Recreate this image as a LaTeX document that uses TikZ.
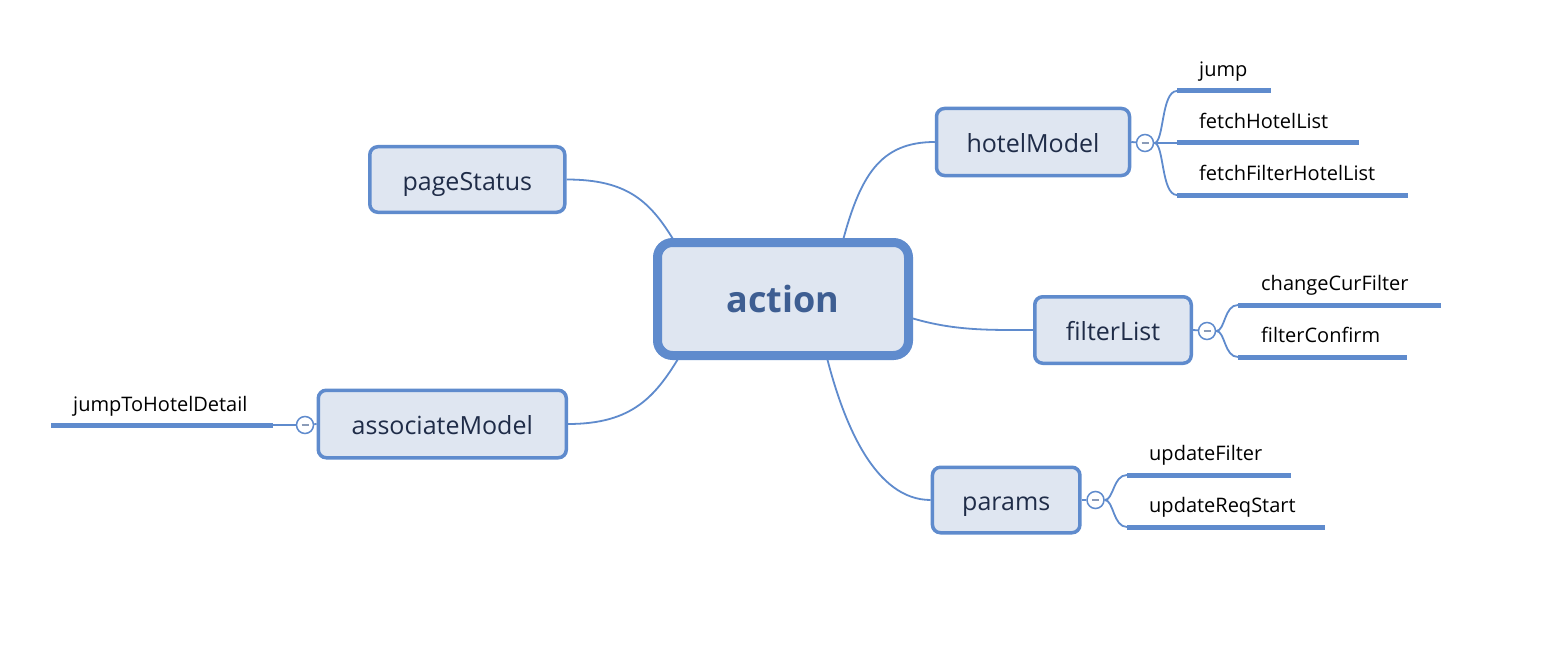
\documentclass[tikz,border=0pt]{standalone}
\usepackage{fontspec}
\setmainfont{Open Sans}
\usetikzlibrary{backgrounds}
\definecolor{mmblue}{HTML}{5F8BCD}
\definecolor{mmfill}{HTML}{DFE6F1}
\definecolor{mmtext}{HTML}{1F2C48}
\definecolor{mmroot}{HTML}{3E5E92}
\definecolor{mmminus}{HTML}{8A9BB8}
\begin{document}
\begin{tikzpicture}[x=1pt,y=-1pt,
  topic/.style={draw=mmblue, fill=mmfill, line width=3.5pt, rounded corners=8pt, inner sep=0pt, text=mmtext, font=\fontsize{25}{30}\selectfont, text height=21pt, text depth=0pt},
  rootbox/.style={draw=mmblue, fill=mmfill, line width=9pt, rounded corners=15pt, inner sep=0pt, text=mmroot, font=\fontsize{36}{42}\selectfont\bfseries, minimum width=251pt, minimum height=113pt, text height=27.4pt, text depth=0pt},
  link/.style={draw=mmblue, line width=1.8pt},
  leafline/.style={draw=mmblue, line width=5pt},
  leaftext/.style={anchor=base west, inner sep=0pt, text=black, font=\fontsize{20}{24}\selectfont},
  fold/.style={circle, draw=mmblue, fill=white, line width=1.5pt, minimum size=17pt, inner sep=0pt,
    path picture={\draw[line width=1.6pt, draw=mmminus] ([xshift=-3.5pt]path picture bounding box.center) -- ([xshift=3.5pt]path picture bounding box.center);}}
]
\useasboundingbox (0,0) rectangle (1542,658);

% main nodes
\node[rootbox] (action) at (783,299) {action};
\node[topic, minimum width=193pt, minimum height=67pt] (hotelModel) at (1033,142) {hotelModel};
\node[topic, minimum width=195pt, minimum height=65.5pt] (pageStatus) at (467.3,179.5) {pageStatus};
\node[topic, minimum width=156.5pt, minimum height=66.5pt] (filterList) at (1113,330) {filterList};
\node[topic, minimum width=248pt, minimum height=67.5pt] (associateModel) at (442.3,424) {associateModel};
\node[topic, minimum width=147.5pt, minimum height=65.5pt] (params) at (1006.2,500) {params};

% fold circles
\node[fold] (cHM) at (1145,143) {};
\node[fold] (cFL) at (1207,331) {};
\node[fold] (cPA) at (1095.5,500) {};
\node[fold] (cAM) at (305,425) {};

% attachment points on root
\coordinate (aHM) at (842,244);
\coordinate (aPS) at (676,244);
\coordinate (aFL) at (908,317);
\coordinate (aAM) at (681,354);
\coordinate (aPA) at (826,354);

% leaf underline coordinates
\coordinate (hJ0) at (1177,91);  \coordinate (hJ1) at (1271,91);
\coordinate (hF0) at (1177,143); \coordinate (hF1) at (1359,143);
\coordinate (hG0) at (1177,195); \coordinate (hG1) at (1408,195);
\coordinate (fC0) at (1238,305); \coordinate (fC1) at (1441,305);
\coordinate (fK0) at (1238,357); \coordinate (fK1) at (1407,357);
\coordinate (pU0) at (1127,475); \coordinate (pU1) at (1291,475);
\coordinate (pR0) at (1127,527); \coordinate (pR1) at (1325,527);
\coordinate (aJ0) at (273,425);  \coordinate (aJ1) at (51,425);

% leaf texts
\node[leaftext] (tJump) at (1199,77) {jump};
\node[leaftext] (tFetch) at (1199,128.5) {fetchHotelList};
\node[leaftext] (tFetchF) at (1199,180.5) {fetchFilterHotelList};
\node[leaftext] (tChange) at (1261,290.5) {changeCurFilter};
\node[leaftext] (tConfirm) at (1261,342.5) {filterConfirm};
\node[leaftext] (tUpd) at (1149,460.5) {updateFilter};
\node[leaftext] (tReq) at (1149,512.5) {updateReqStart};
\node[leaftext] (tJumpTo) at (73,411) {jumpToHotelDetail};

\begin{scope}[on background layer]
  \fill[white] (0,0) rectangle (1542,658);
  % root connectors
  \draw[link] (aHM) .. controls +(18,-68) and +(-55,0) .. (hotelModel.west);
  \draw[link] (pageStatus.east) .. controls +(62,0) and +(-25,-42) .. (aPS);
  \draw[link] (aFL) .. controls +(45,14) and +(-45,0) .. (filterList.west);
  \draw[link] (associateModel.east) .. controls +(65,0) and +(-25,42) .. (aAM);
  \draw[link] (aPA) .. controls +(18,72) and +(-55,0) .. (params.west);
  % box to fold
  \draw[link] (hotelModel.east) -- (cHM);
  \draw[link] (filterList.east) -- (cFL);
  \draw[link] (params.east) -- (cPA);
  \draw[link] (associateModel.west) -- (cAM);
  % forks
  \draw[link] (cHM.east) .. controls +(10,0) and +(-16,0) .. (hJ0);
  \draw[link] (cHM.east) -- (hF0);
  \draw[link] (cHM.east) .. controls +(10,0) and +(-16,0) .. (hG0);
  \draw[link] (cFL.east) .. controls +(9,0) and +(-14,0) .. (fC0);
  \draw[link] (cFL.east) .. controls +(9,0) and +(-14,0) .. (fK0);
  \draw[link] (cPA.east) .. controls +(9,0) and +(-14,0) .. (pU0);
  \draw[link] (cPA.east) .. controls +(9,0) and +(-14,0) .. (pR0);
  \draw[link] (cAM.west) -- (aJ0);
\end{scope}

% underlines
\draw[leafline] (hJ0) -- (hJ1);
\draw[leafline] (hF0) -- (hF1);
\draw[leafline] (hG0) -- (hG1);
\draw[leafline] (fC0) -- (fC1);
\draw[leafline] (fK0) -- (fK1);
\draw[leafline] (pU0) -- (pU1);
\draw[leafline] (pR0) -- (pR1);
\draw[leafline] (aJ0) -- (aJ1);
\end{tikzpicture}
\end{document}
